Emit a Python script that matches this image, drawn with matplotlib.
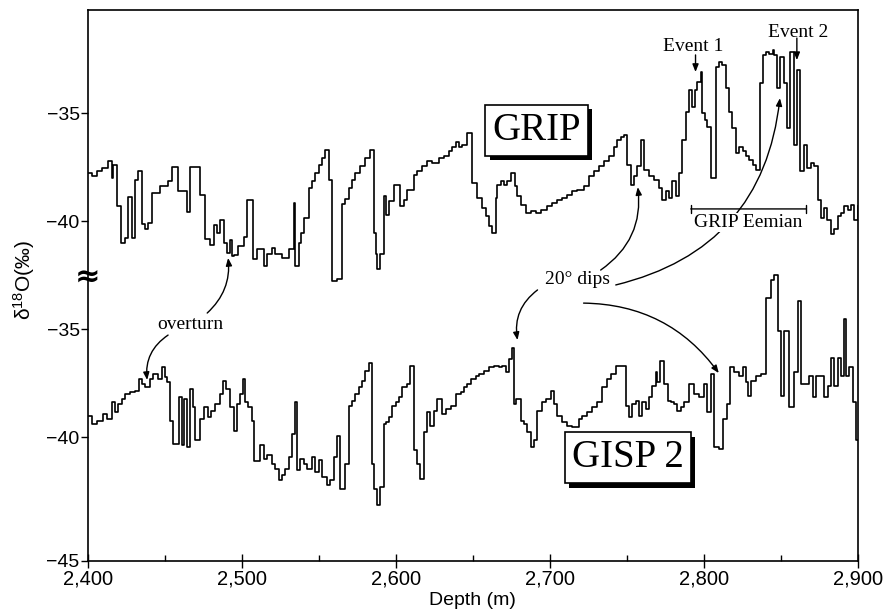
"""Perfis de d18O GRIP e GISP2 (2400-2900 m) com eixo y quebrado."""

import matplotlib

matplotlib.use("Agg")
import matplotlib.patheffects as pe
import matplotlib.pyplot as plt
import numpy as np
from matplotlib.ticker import FuncFormatter, MultipleLocator

plt.rcParams["font.family"] = ["Liberation Sans", "DejaVu Sans"]
plt.rcParams["mathtext.default"] = "regular"
SERIF = ["Liberation Serif", "DejaVu Serif"]

# GRIP: inicio de cada degrau (m) e valor de d18O (permil)
GRIP_DEPTH = [
    2400.2, 2402.4, 2405.6, 2408.9, 2413.2, 2415.4, 2416.5, 2419.1, 2421.2, 2424.1,
    2426.2, 2428.4, 2430.6, 2432.7, 2434.9, 2437.1, 2439.2, 2441.4, 2446.8, 2452.2,
    2454.4, 2458.7, 2464.2, 2466.3, 2472.8, 2476.1, 2479.3, 2481.5, 2483.7, 2485.8,
    2488.4, 2490.2, 2492.3, 2493.4, 2494.9, 2497.7, 2501.0, 2503.2, 2507.1, 2509.7,
    2514.0, 2516.2, 2519.4, 2521.6, 2525.9, 2530.3, 2533.5, 2534.6, 2536.8, 2538.3,
    2540.4, 2543.3, 2545.4, 2547.6, 2549.8, 2551.9, 2554.1, 2556.3, 2558.4, 2561.7,
    2564.9, 2567.1, 2569.3, 2571.4, 2573.6, 2576.9, 2580.1, 2583.4, 2585.6, 2586.7,
    2587.7, 2589.9, 2592.1, 2593.2, 2595.3, 2598.6, 2602.9, 2605.1, 2607.2, 2611.6,
    2613.7, 2617.0, 2620.2, 2623.5, 2627.8, 2631.1, 2634.3, 2636.5, 2638.7, 2640.8,
    2643.0, 2646.3, 2649.5, 2652.8, 2656.0, 2658.2, 2660.3, 2662.5, 2664.7, 2665.8,
    2667.9, 2670.1, 2672.3, 2674.4, 2677.0, 2678.8, 2680.9, 2684.2, 2687.4, 2690.7,
    2693.9, 2698.3, 2701.5, 2704.8, 2708.0, 2711.3, 2714.5, 2717.8, 2722.1, 2725.4,
    2728.6, 2731.9, 2735.1, 2738.4, 2741.6, 2743.8, 2746.0, 2748.1, 2750.3, 2752.4,
    2754.6, 2756.8, 2758.9, 2761.1, 2764.3, 2767.6, 2770.8, 2773.0, 2775.2, 2777.3,
    2779.5, 2781.7, 2783.8, 2786.0, 2788.2, 2790.3, 2792.5, 2794.0, 2795.7, 2797.9,
    2799.0, 2800.5, 2802.2, 2804.4, 2807.7, 2809.8, 2812.0, 2814.2, 2816.3, 2818.5,
    2820.7, 2822.8, 2825.0, 2827.2, 2829.3, 2831.5, 2833.7, 2836.5, 2838.0, 2840.2,
    2842.3, 2844.5, 2845.6, 2847.3, 2849.5, 2851.7, 2853.8, 2856.0, 2858.2, 2860.3,
    2862.5, 2864.7, 2866.8, 2869.4, 2871.6, 2873.8, 2875.9, 2877.7, 2879.8, 2882.4,
    2884.6, 2886.8, 2888.9, 2891.1, 2893.3, 2895.4, 2897.6, 2899.8,
]
GRIP_D18O = [
    -37.78, -37.90, -37.70, -37.55, -37.21, -38.01, -37.39, -39.31, -41.00, -40.77,
    -38.88, -40.77, -38.08, -37.67, -40.16, -40.36, -40.08, -38.70, -38.39, -38.16,
    -37.50, -38.62, -39.57, -37.50, -38.81, -40.85, -41.13, -40.20, -40.54, -39.96,
    -41.00, -41.46, -40.88, -41.62, -41.59, -41.16, -40.73, -39.01, -41.77, -41.31,
    -42.08, -41.54, -41.23, -41.54, -41.69, -41.31, -39.16, -42.08, -41.00, -40.54,
    -39.85, -38.47, -38.16, -37.78, -37.39, -37.09, -36.73, -38.08, -42.77, -42.69,
    -39.19, -38.98, -38.47, -38.08, -37.78, -37.47, -37.09, -36.70, -40.54, -41.54,
    -42.23, -41.54, -38.85, -39.70, -39.08, -38.31, -39.31, -39.01, -38.55, -37.85,
    -37.70, -37.47, -37.24, -37.32, -37.09, -37.01, -36.78, -36.55, -36.32, -36.55,
    -36.47, -35.93, -38.24, -38.93, -39.39, -39.77, -40.23, -40.54, -38.93, -38.31,
    -38.16, -38.31, -38.16, -37.78, -38.39, -38.85, -39.24, -39.62, -39.54, -39.62,
    -39.47, -39.31, -39.16, -39.01, -38.93, -38.78, -38.62, -38.55, -38.39, -37.93,
    -37.70, -37.47, -37.24, -37.01, -36.55, -36.24, -36.09, -36.01, -37.39, -38.31,
    -37.93, -37.47, -36.24, -37.62, -37.93, -38.08, -38.47, -39.01, -38.62, -38.93,
    -38.16, -38.85, -37.78, -36.24, -34.94, -33.94, -34.71, -33.94, -33.55, -33.09,
    -35.01, -35.32, -35.63, -38.01, -32.86, -32.63, -32.79, -33.86, -34.94, -35.70,
    -36.86, -36.55, -36.78, -37.01, -37.16, -37.39, -37.62, -33.63, -32.32, -32.17,
    -32.25, -32.09, -32.32, -33.86, -32.40, -33.63, -35.70, -32.17, -36.47, -33.02,
    -37.70, -36.47, -37.55, -37.32, -37.47, -39.01, -39.85, -39.39, -39.93, -40.62,
    -40.39, -39.77, -39.62, -39.31, -39.47, -39.24, -39.93, -39.31,
]

# GISP2: inicio de cada degrau (m) e valor de d18O (permil)
GISP2_DEPTH = [
    2400.2, 2402.4, 2405.6, 2410.0, 2412.1, 2415.4, 2417.6, 2419.7, 2421.9, 2424.1,
    2427.3, 2430.6, 2433.4, 2434.9, 2437.1, 2440.3, 2442.5, 2445.7, 2447.9, 2450.1,
    2451.6, 2453.3, 2455.5, 2459.2, 2460.9, 2462.4, 2464.2, 2466.3, 2468.5, 2469.6,
    2472.8, 2475.0, 2477.6, 2479.8, 2482.6, 2485.4, 2487.6, 2489.7, 2491.9, 2494.5,
    2496.7, 2498.4, 2500.6, 2502.1, 2504.2, 2506.4, 2507.5, 2511.8, 2514.0, 2516.2,
    2519.4, 2521.6, 2523.8, 2525.9, 2528.1, 2530.3, 2532.4, 2534.6, 2535.7, 2537.8,
    2540.0, 2542.2, 2545.4, 2547.6, 2549.8, 2551.9, 2555.2, 2557.3, 2559.5, 2561.7,
    2563.8, 2567.1, 2569.3, 2571.4, 2573.6, 2575.8, 2577.9, 2580.1, 2582.3, 2584.4,
    2585.5, 2587.7, 2589.9, 2592.1, 2593.2, 2595.3, 2597.5, 2599.7, 2601.8, 2604.0,
    2607.2, 2609.4, 2611.6, 2613.7, 2615.9, 2618.1, 2620.2, 2622.4, 2624.6, 2626.7,
    2630.0, 2632.2, 2635.4, 2638.7, 2641.9, 2644.1, 2646.3, 2648.4, 2651.7, 2653.8,
    2657.1, 2660.3, 2663.6, 2666.8, 2669.0, 2671.2, 2673.3, 2675.5, 2676.6, 2677.7,
    2680.9, 2683.1, 2685.3, 2687.4, 2689.6, 2691.8, 2695.0, 2697.2, 2700.4, 2702.6,
    2704.8, 2708.0, 2711.3, 2714.5, 2718.9, 2721.0, 2724.3, 2727.5, 2730.8, 2734.0,
    2737.3, 2739.4, 2742.7, 2749.2, 2751.4, 2753.5, 2755.7, 2757.9, 2760.0, 2762.2,
    2764.4, 2766.5, 2768.7, 2769.8, 2771.5, 2774.1, 2776.3, 2778.4, 2780.6, 2782.7,
    2784.9, 2787.1, 2790.3, 2793.6, 2796.8, 2800.1, 2802.2, 2804.4, 2806.6, 2809.8,
    2812.6, 2814.8, 2817.0, 2819.6, 2822.8, 2825.0, 2827.2, 2828.7, 2830.4, 2833.7,
    2836.9, 2840.2, 2843.4, 2845.6, 2847.8, 2849.9, 2852.1, 2855.3, 2858.6, 2860.8,
    2862.9, 2868.4, 2870.5, 2872.7, 2878.1, 2880.3, 2882.4, 2884.6, 2886.8, 2888.9,
    2891.1, 2892.2, 2894.4, 2896.5, 2898.7,
]
GISP2_D18O = [
    -39.01, -39.39, -39.24, -38.93, -39.16, -38.40, -38.86, -38.47, -38.24, -38.01,
    -37.93, -37.86, -37.32, -37.55, -37.70, -37.32, -37.09, -37.32, -36.78, -37.24,
    -37.47, -39.24, -40.32, -38.16, -40.39, -38.24, -40.47, -37.78, -38.63, -40.16,
    -39.16, -38.63, -39.09, -38.78, -38.47, -38.01, -37.40, -37.78, -38.63, -39.70,
    -38.47, -38.01, -37.32, -38.40, -38.63, -39.24, -41.11, -40.39, -41.01, -40.85,
    -41.24, -41.47, -42.00, -41.77, -41.47, -40.93, -39.85, -38.40, -41.54, -41.01,
    -41.24, -41.47, -40.93, -41.62, -41.08, -41.85, -42.23, -42.00, -40.93, -39.93,
    -42.39, -41.24, -38.55, -38.32, -38.01, -37.70, -37.40, -36.94, -36.55, -41.24,
    -42.39, -43.16, -42.31, -39.39, -39.32, -39.09, -38.55, -38.40, -38.17, -37.70,
    -37.55, -36.71, -40.62, -41.24, -41.93, -39.78, -38.86, -39.47, -38.78, -38.24,
    -38.93, -38.70, -38.55, -38.01, -37.93, -37.70, -37.55, -37.32, -37.17, -37.09,
    -36.94, -36.78, -36.71, -36.78, -36.71, -37.01, -36.40, -35.86, -38.47, -38.24,
    -39.24, -39.39, -39.78, -40.47, -40.16, -38.78, -38.40, -38.24, -37.86, -38.47,
    -39.01, -39.32, -39.47, -39.55, -39.16, -39.01, -38.86, -38.63, -38.40, -37.70,
    -37.32, -37.09, -36.71, -38.55, -39.09, -38.47, -38.32, -39.01, -38.40, -38.70,
    -38.17, -37.63, -37.01, -37.47, -36.47, -37.55, -38.32, -38.40, -38.47, -38.78,
    -38.63, -38.40, -37.55, -38.01, -38.17, -37.55, -38.86, -37.09, -40.47, -40.55,
    -39.16, -38.47, -36.78, -37.01, -37.17, -36.78, -37.47, -38.09, -37.40, -37.17,
    -37.09, -33.56, -32.71, -32.48, -35.09, -38.09, -35.09, -38.63, -37.01, -33.71,
    -37.55, -37.17, -38.17, -37.17, -38.17, -37.63, -36.32, -37.63, -36.32, -37.17,
    -34.55, -37.17, -36.78, -38.40, -40.16,
]

DEPTH_MAX = 2900.0
GRIP_OFFSET = 10.0  # GRIP desenhado 10 permil acima do GISP2
Y_MIN, Y_MAX = -45.74, -20.23  # o "-45" do original fica na base do eixo
Y_TICKS = [Y_MIN, -40, -35, -30, -25]
Y_TICK_LABELS = ["\u221245", "\u221240", "\u221235", "\u221240", "\u221235"]
EEMIAN = (2791.4, 2866.2)

# eixo: 88..858 px na horizontal, 10..561 px na vertical
AX_L, AX_R, AX_T, AX_B = 88, 858, 10, 561
AX_W, AX_H = AX_R - AX_L, AX_B - AX_T


def escada(ax, prof, valores, deslocamento=0.0):
    assert len(prof) == len(valores)
    x = np.append(prof, DEPTH_MAX)
    y = np.append(valores, valores[-1]) + deslocamento
    ax.step(x, y, where="post", color="black", lw=1.2, zorder=2)


def seta(ax, xy, xytext, rad, z=3):
    ax.annotate(
        "", xy=xy, xytext=xytext, zorder=z,
        arrowprops=dict(
            arrowstyle="-|>,head_length=0.45,head_width=0.18",
            color="black", lw=1.0, shrinkA=0, shrinkB=0,
            connectionstyle=f"arc3,rad={rad}",
        ),
    )


def caixa(ax, x, y, texto):
    t = ax.text(
        x, y, texto, family=SERIF, fontsize=28, ha="center", va="center", zorder=6,
        bbox=dict(boxstyle="square,pad=0.18", fc="white", ec="black", lw=1.2),
    )
    t.get_bbox_patch().set_path_effects(
        [pe.withSimplePatchShadow(offset=(3.2, -3.2), shadow_rgbFace="black", alpha=1.0)]
    )


fig = plt.figure(figsize=(8.86, 6.11), dpi=100)
ax = fig.add_axes([AX_L / 886, (611 - AX_B) / 611, AX_W / 886, AX_H / 611])

escada(ax, GRIP_DEPTH, np.array(GRIP_D18O), GRIP_OFFSET)
escada(ax, GISP2_DEPTH, np.array(GISP2_D18O))

ax.set_xlim(2400, DEPTH_MAX)
ax.set_ylim(Y_MIN, Y_MAX)
ax.set_yticks(Y_TICKS)
ax.set_yticklabels(Y_TICK_LABELS)
ax.xaxis.set_major_locator(MultipleLocator(100))
ax.xaxis.set_minor_locator(MultipleLocator(50))
ax.xaxis.set_major_formatter(FuncFormatter(lambda v, _: f"{v:,.0f}"))
ax.tick_params(axis="x", which="major", direction="inout", length=10, width=1.0,
               labelsize=14.5, pad=1)
ax.tick_params(axis="x", which="minor", direction="in", length=4, width=1.0)
ax.tick_params(axis="y", direction="out", length=5, width=1.0, labelsize=14, pad=1)
for lado in ax.spines.values():
    lado.set_linewidth(1.2)

ax.set_xlabel("Depth (m)", fontsize=14)
ax.xaxis.set_label_coords((472 - AX_L) / AX_W, -(592 - AX_B) / AX_H)
ax.set_ylabel("\u03b4$^{18}$O(\u2030)", fontsize=15)
ax.yaxis.set_label_coords(-(AX_L - 37) / AX_W, (AX_B - 280) / AX_H)

# simbolo de quebra no eixo y
ax.text(0, (AX_B - 278) / AX_H, "\u2248", transform=ax.transAxes, ha="center",
        va="center", fontsize=22, fontweight="bold", family="DejaVu Sans",
        clip_on=False, zorder=7)

caixa(ax, 2691.3, -25.79, "GRIP")
caixa(ax, 2750.5, -40.97, "GISP 2")

txt = dict(family=SERIF, fontsize=14, ha="center", va="center")
ax.text(2466.3, -34.81, "overturn", **txt)
ax.text(2717.9, -32.73, "20\u00b0 dips", **txt)
ax.text(2792.7, -21.94, "Event 1", **txt)
ax.text(2861.0, -21.25, "Event 2", **txt)
ax.text(2828.5, -30.05, "GRIP Eemian", zorder=4,
        bbox=dict(boxstyle="square,pad=0.05", fc="white", ec="none"), **txt)

ax.annotate("", xy=(EEMIAN[1], -29.44), xytext=(EEMIAN[0], -29.44), zorder=5,
            arrowprops=dict(arrowstyle="|-|,widthA=0.3,widthB=0.3", color="black",
                            lw=1.0, shrinkA=0, shrinkB=0))

seta(ax, (2491.0, -31.71), (2477.4, -34.26), 0.25)
seta(ax, (2438.4, -37.36), (2452.0, -35.28), 0.3)
seta(ax, (2757.0, -28.43), (2732.9, -32.27), 0.3)
seta(ax, (2678.9, -35.51), (2691.9, -33.19), 0.3)
seta(ax, (2809.6, -37.04), (2721.8, -33.80), -0.25)
seta(ax, (2849.3, -24.31), (2742.7, -32.96), 0.35)
seta(ax, (2794.5, -23.10), (2794.5, -22.31), 0.0)
seta(ax, (2860.3, -22.55), (2860.3, -21.53), 0.0)

fig.savefig("out.png", dpi=100)
